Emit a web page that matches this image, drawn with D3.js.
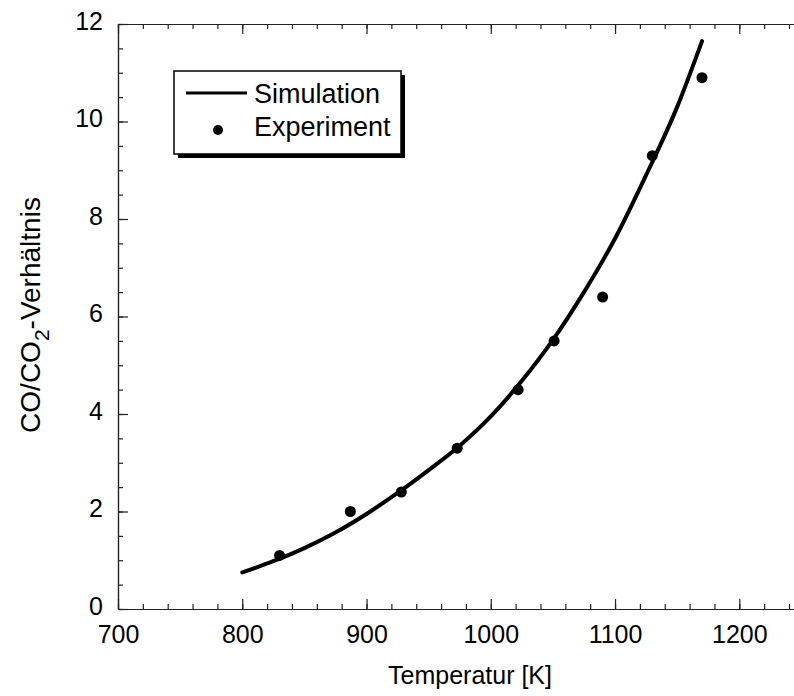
<!DOCTYPE html>
<html>
<head>
<meta charset="utf-8">
<script src="https://cdn.jsdelivr.net/npm/d3@7"></script>
<style>
  body { margin: 0; background: #fff; }
  svg { display: block; font-family: "Liberation Sans", Arial, sans-serif; }
</style>
</head>
<body>
<div id="chart"></div>
<script>
// simulation curve
var simT = [800, 825, 850, 875, 900, 925, 950, 975, 1000, 1025, 1050, 1075, 1100, 1125, 1150, 1170];
var simRatio = [0.75, 0.98, 1.25, 1.57, 1.95, 2.38, 2.85, 3.35, 3.95, 4.68, 5.52, 6.5, 7.6, 8.9, 10.3, 11.65];

// measured points
var expT = [830, 887, 928, 973, 1022, 1051, 1090, 1130, 1170];
var expRatio = [1.1, 2.0, 2.4, 3.3, 4.5, 5.5, 6.4, 9.3, 10.9];

var xTicks = [700, 800, 900, 1000, 1100, 1200];
var yTicks = [0, 2, 4, 6, 8, 10, 12];
var legendLabels = ["Simulation", "Experiment"];

var W = 794, H = 696;
var plotLeft = 118, plotTop = 24, plotBottom = 609;

var svg = d3.select("#chart")
  .append("svg")
    .attr("width", W)
    .attr("height", H);

var x = d3.scaleLinear()
  .domain([700, 1250])
  .range([plotLeft, plotLeft + 5.5 * 124.26]);
var y = d3.scaleLinear()
  .domain([0, 12])
  .range([plotBottom, plotTop]);
var plotRight = x(1250);

var minorX = d3.range(700, 1251, 20);
var minorY = d3.range(0, 12.01, 0.5);

function styleAxis(g) {
  g.select(".domain").attr("stroke", "#222").attr("stroke-width", 1.2);
  g.selectAll(".tick line").attr("stroke", "#222").attr("stroke-width", 1.2);
  g.selectAll("text").attr("fill", "#000").style("font-size", "25px")
    .style("font-family", "'Liberation Sans', Arial, sans-serif");
}

// bottom axis: minor then major
svg.append("g")
  .attr("transform", "translate(0," + plotBottom + ")")
  .call(d3.axisBottom(x).tickValues(minorX).tickSize(-5).tickSizeOuter(0).tickFormat(""))
  .call(styleAxis);
svg.append("g")
  .attr("transform", "translate(0," + plotBottom + ")")
  .call(d3.axisBottom(x).tickValues(xTicks).tickSize(-10).tickSizeOuter(0)
    .tickPadding(16).tickFormat(d3.format("d")))
  .call(styleAxis);

// top axis
svg.append("g")
  .attr("transform", "translate(0," + plotTop + ")")
  .call(d3.axisTop(x).tickValues(minorX).tickSize(-5).tickSizeOuter(0).tickFormat(""))
  .call(styleAxis);
svg.append("g")
  .attr("transform", "translate(0," + plotTop + ")")
  .call(d3.axisTop(x).tickValues(xTicks).tickSize(-10).tickSizeOuter(0).tickFormat(""))
  .call(styleAxis);

// left axis
svg.append("g")
  .attr("transform", "translate(" + plotLeft + ",0)")
  .call(d3.axisLeft(y).tickValues(minorY).tickSize(-5).tickSizeOuter(0).tickFormat(""))
  .call(styleAxis);
var yAx = svg.append("g")
  .attr("transform", "translate(" + plotLeft + ",0)")
  .call(d3.axisLeft(y).tickValues(yTicks).tickSize(-10).tickSizeOuter(0)
    .tickPadding(15).tickFormat(d3.format("d")))
  .call(styleAxis);
yAx.selectAll("text").attr("dy", "0.21em");

// right axis (falls just outside the window)
svg.append("g")
  .attr("transform", "translate(" + plotRight + ",0)")
  .call(d3.axisRight(y).tickValues(minorY).tickSize(-5).tickSizeOuter(0).tickFormat(""))
  .call(styleAxis);

// simulation line
var line = d3.line()
  .x(function(d, i) { return x(simT[i]); })
  .y(function(d) { return y(d); })
  .curve(d3.curveMonotoneX);
svg.append("path")
  .datum(simRatio)
  .attr("d", line)
  .attr("fill", "none")
  .attr("stroke", "#000")
  .attr("stroke-width", 4)
  .attr("stroke-linecap", "round");

// experiment points
svg.selectAll("circle.exp")
  .data(expRatio)
  .enter()
  .append("circle")
    .attr("class", "exp")
    .attr("cx", function(d, i) { return x(expT[i]); })
    .attr("cy", function(d) { return y(d); })
    .attr("r", 5.5)
    .attr("fill", "#000");

// axis titles
svg.append("text")
  .attr("x", 470)
  .attr("y", 684)
  .attr("text-anchor", "middle")
  .style("font-size", "25px")
  .text("Temperatur [K]");

var yt = svg.append("text")
  .attr("transform", "translate(40,315) rotate(-90)")
  .attr("text-anchor", "middle")
  .style("font-size", "28px");
yt.append("tspan").text("CO/CO");
yt.append("tspan").attr("dy", 9).style("font-size", "21px").text("2");
yt.append("tspan").attr("dy", -9).text("-Verhältnis");

// legend
var lg = svg.append("g").attr("transform", "translate(174,71)");
lg.append("rect")
  .attr("x", 4).attr("y", 4)
  .attr("width", 227).attr("height", 83)
  .attr("fill", "#000");
lg.append("rect")
  .attr("width", 227).attr("height", 83)
  .attr("fill", "#fff")
  .attr("stroke", "#000")
  .attr("stroke-width", 1.5);
lg.append("line")
  .attr("x1", 12).attr("x2", 73)
  .attr("y1", 22).attr("y2", 22)
  .attr("stroke", "#000")
  .attr("stroke-width", 3);
lg.append("circle")
  .attr("cx", 44).attr("cy", 59)
  .attr("r", 5)
  .attr("fill", "#000");
lg.selectAll("text.lab")
  .data(legendLabels)
  .enter()
  .append("text")
    .attr("class", "lab")
    .attr("x", 80)
    .attr("y", function(d, i) { return 32 + i * 33; })
    .style("font-size", "27px")
    .text(function(d) { return d; });
</script>
</body>
</html>
